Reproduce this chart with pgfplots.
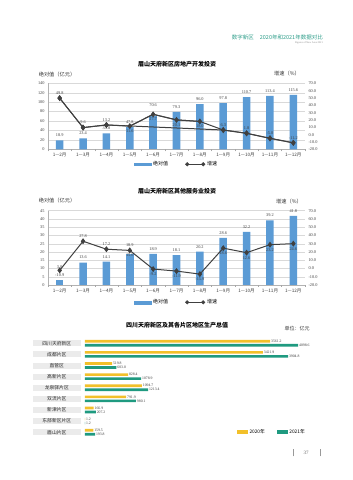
\documentclass[border=0pt]{standalone}
\usepackage{fontspec}
\usepackage{pgfplots}
\pgfplotsset{compat=1.18}
\usepackage{pgfplotstable}
\setmainfont{Liberation Serif}
\newfontfamily\cjk{Noto Sans CJK SC}
\newcommand\fs[1]{\fontsize{#1}{#1}\selectfont}
\definecolor{barblue}{HTML}{5B9BD5}
\definecolor{linegray}{HTML}{404040}
\definecolor{hdrteal}{HTML}{2E9E8A}
\definecolor{yel}{HTML}{F2C02A}
\definecolor{grn}{HTML}{1F9A80}
\pgfkeys{/pgf/number format/1000 sep={}}

% Chart 1: real estate investment (bars, 100 million yuan)
\pgfplotstableread{
x bar
0 18.9
1 23.4
2 33.8
3 47.8
5 79.3
6 96.0
7 97.8
8 110.7
9 113.4
10 115.6
}\tA
\pgfplotstableread{
x bar
4 70.6
}\tAs
% growth (%), labels above / below
\pgfplotstableread{
x g
0 49.8
1 9.6
2 13.2
7 6.3
8 1.8
9 -5.0
10 -11.2
}\tBa
\pgfplotstableread{
x g
3 11.6
4 27.7
5 20.1
6 18.0
}\tBb
% Chart 2: other services investment
\pgfplotstableread{
x bar
1 13.6
2 14.1
4 18.9
5 18.1
6 20.2
7 28.6
8 32.2
9 39.2
10 41.8
}\tC
\pgfplotstableread{
x bar
0 3.0
}\tCs
\pgfplotstableread{
x bar
3 18.9
}\tCt
\pgfplotstableread{
x g
1 27.8
2 17.2
}\tDa
\pgfplotstableread{
x g
0 -10.9
3 15.6
4 -9.2
5 -11.9
6 -15.9
7 18.6
8 12.6
9 23.2
10 24.6
}\tDb
% Chart 3: GDP
\pgfplotstableread{
y a b
0 159.5 193.8
1 1.2 1.2
2 166.9 207.2
3 791.9 980.1
4 1094.7 1213.4
5 828.4 1078.9
6 519.8 603.0
7 3421.9 3904.8
8 3561.2 4098.6
}\tE

\pgfplotsset{
  monthaxis/.style={
    anchor=south west, scale only axis, width=257pt,
    xmin=-0.5, xmax=10.5, clip=false,
    /pgf/number format/assume math mode=true,
    major tick length=0pt,
  },
  barlayer/.style={
    monthaxis,
    xtick={0,...,10},
    xticklabels={1—2月,1—3月,1—4月,1—5月,1—6月,1—7月,1—8月,1—9月,1—10月,1—11月,1—12月},
    xticklabel style={font=\cjk\fs{4.6}, text=black!75},
    yticklabel style={font=\fs{4.3}, text=black!75},
    yticklabel={\pgfmathprintnumber{\tick}},
    axis x line*=bottom, axis y line*=left,
    axis line style={-, black!30, line width=0.4pt},
    ymajorgrids, grid style={black!15, line width=0.4pt},
    extra x ticks={-0.5,0.5,...,10.5}, extra x tick labels={},
    extra x tick style={major tick length=2pt, tick align=outside, tick style={black!35, line width=0.4pt}, grid=none},
    legend style={draw=none, fill=none, legend columns=2, font=\cjk\fs{5},
      /tikz/every even column/.append style={column sep=15pt}},
  },
  linelayer/.style={
    monthaxis,
    axis x line=none, axis y line*=right,
    y axis line style={draw=none},
    yticklabel={\pgfmathprintnumber[fixed,fixed zerofill,precision=1]{\tick}},
    yticklabel style={font=\fs{4.3}, text=black!75},
  },
  lbl/.style={
    nodes near coords={\pgfmathprintnumber[fixed,fixed zerofill,precision=1]{\pgfplotspointmeta}},
    nodes near coords style={font=\fs{4.3}, text=black!75},
  },
  barplot/.style={
    ybar, bar width=7.5pt, bar shift=0pt, fill=barblue, draw=none, forget plot, lbl,
  },
  lineplot/.style={
    linegray, line width=1pt, mark=diamond*, mark size=2.2pt, mark options={fill=linegray}, forget plot,
  },
  barlegend/.style={
    legend image code/.code={\fill[barblue] (0pt,-1.4pt) rectangle (17pt,1.4pt);}
  },
  linelegend/.style={
    legend image code/.code={
      \draw[linegray, line width=1pt] (0pt,0pt) -- (16pt,0pt);
      \fill[linegray] (0pt,1.8pt) -- (1.8pt,0pt) -- (0pt,-1.8pt) -- (-1.8pt,0pt) -- cycle;
      \fill[linegray] (16pt,1.8pt) -- (17.8pt,0pt) -- (16pt,-1.8pt) -- (14.2pt,0pt) -- cycle;
    }
  },
}

\begin{document}
\begin{tikzpicture}[x=1pt,y=1pt]
\useasboundingbox (0,0) rectangle (353,480);
\fill[white] (0,0) rectangle (353,480);

% header
\node[anchor=east, font=\cjk\fs{5.5}, text=hdrteal, inner sep=0pt] at (323,443) {数字新区\hspace{6pt}2020年和2021年数据对比};
\node[anchor=east, font=\fs{2.6}, text=black!45, inner sep=0pt] at (323,437) {Figures of New Area 2021};

% ---------- Chart 1 ----------
\node[font=\cjk\bfseries\fs{6}] at (177,416) {眉山天府新区房地产开发投资};
\node[font=\cjk\fs{5.2}, text=black!80] at (57,405.7) {绝对值（亿元）};
\node[font=\cjk\fs{5.2}, text=black!80] at (287,406) {增速（\%）};
\begin{axis}[barlayer, at={(48pt,330.7pt)}, height=66pt,
  ymin=0, ymax=140, ytick={0,20,...,140},
  legend style={at={(0.5,-0.227)}, anchor=center}]
\addplot[barplot] table[x=x,y=bar]{\tA};
\addplot[barplot, nodes near coords style={yshift=6pt}] table[x=x,y=bar]{\tAs};
\addlegendimage{barlegend}
\addlegendentry{绝对值}
\addlegendimage{linelegend}
\addlegendentry{增速}
\end{axis}
\begin{axis}[linelayer, at={(48pt,330.7pt)}, height=66pt,
  ymin=-20, ymax=70, ytick={-20,-10,...,70}]
\addplot[lineplot] table[x=x,y=g]{\tBa};
\addplot[lineplot, mark=none] table[x=x,y=g]{\tBb};
% connecting line through all points, in order
\addplot[lineplot] coordinates {(0,49.8) (1,9.6) (2,13.2) (3,11.6) (4,27.7) (5,20.1) (6,18.0) (7,6.3) (8,1.8) (9,-5.0) (10,-11.2)};
\addplot[draw=none, forget plot, lbl, nodes near coords style={anchor=south}] table[x=x,y=g]{\tBa};
\addplot[draw=none, forget plot, lbl, nodes near coords style={anchor=north}] table[x=x,y=g]{\tBb};
\end{axis}

% ---------- Chart 2 ----------
\node[font=\cjk\bfseries\fs{6}] at (177,288.3) {眉山天府新区其他服务业投资};
\node[font=\cjk\fs{5.2}, text=black!80] at (57,279.3) {绝对值（亿元）};
\node[font=\cjk\fs{5.2}, text=black!80] at (289,278.3) {增速（\%）};
\begin{axis}[barlayer, at={(48pt,195pt)}, height=74.3pt,
  ymin=0, ymax=45, ytick={0,5,...,45},
  legend style={at={(0.5,-0.233)}, anchor=center}]
\addplot[barplot] table[x=x,y=bar]{\tC};
\addplot[barplot, nodes near coords style={yshift=8pt}] table[x=x,y=bar]{\tCs};
\addplot[barplot, nodes near coords style={yshift=4pt}] table[x=x,y=bar]{\tCt};
\addlegendimage{barlegend}
\addlegendentry{绝对值}
\addlegendimage{linelegend}
\addlegendentry{增速}
\end{axis}
\begin{axis}[linelayer, at={(48pt,195pt)}, height=74.3pt,
  ymin=-30.4, ymax=68.42,
  ytick={-30.4,-19.42,-8.44,2.54,13.52,24.5,35.48,46.46,57.44,68.42},
  yticklabels={-20.0,-10.0,0.0,10.0,20.0,30.0,40.0,50.0,60.0,70.0}]
\addplot[lineplot] coordinates {(0,-10.9) (1,27.8) (2,17.2) (3,15.6) (4,-9.2) (5,-11.9) (6,-15.9) (7,18.6) (8,12.6) (9,23.2) (10,24.6)};
\addplot[draw=none, forget plot, lbl, nodes near coords style={anchor=south}] table[x=x,y=g]{\tDa};
\addplot[draw=none, forget plot, lbl, nodes near coords style={anchor=north}] table[x=x,y=g]{\tDb};
\end{axis}

% ---------- Chart 3 ----------
\node[font=\cjk\bfseries\fs{6}] at (177,155) {四川天府新区及其各片区地区生产总值};
\node[font=\cjk\fs{5}, text=black!80] at (297,151) {单位：亿元};
\begin{axis}[at={(85pt,42.2pt)}, anchor=south west, scale only axis,
  width=234pt, height=100.1pt,
  xmin=0, xmax=4500, ymin=-0.5, ymax=8.5,
  xbar, bar width=2.7pt, clip=false,
  axis x line=none, axis y line*=left, y axis line style={draw=none},
  major tick length=0pt,
  ytick={0,...,8},
  yticklabels={眉山片区,东部新区片区,新津片区,双流片区,龙泉驿片区,高新片区,直管区,成都片区,四川天府新区},
  yticklabel style={font=\cjk\fs{4.8}, fill=black!8, text=black!85,
    minimum width=48pt, minimum height=6pt, inner sep=0pt, anchor=east, xshift=-4pt},
  point meta=x,
  nodes near coords={\pgfmathprintnumber[fixed,fixed zerofill,precision=1]{\pgfplotspointmeta}},
  nodes near coords style={font=\fs{3.8}, text=black!75, anchor=west, inner sep=0.8pt},
  /pgf/number format/assume math mode=true,
  legend style={draw=none, fill=none, legend columns=2, at={(0.799,0.058)}, anchor=center,
    font=\cjk\fs{4.8}, /tikz/every even column/.append style={column sep=10pt}},
]
\addplot[fill=yel, draw=none, bar shift=2pt, forget plot] table[x=a,y=y]{\tE};
\addplot[fill=grn, draw=none, bar shift=-2pt, forget plot] table[x=b,y=y]{\tE};
\addlegendimage{legend image code/.code={\fill[yel] (0pt,-1.4pt) rectangle (10pt,1.4pt);}}
\addlegendentry{2020年}
\addlegendimage{legend image code/.code={\fill[grn] (0pt,-1.4pt) rectangle (10pt,1.4pt);}}
\addlegendentry{2021年}
\end{axis}

% page number
\node[font=\fs{5}, text=black!60] at (306,27) {37};
\draw[black!40, line width=0.4pt] (293,23.5) -- (293,30.5);
\draw[black!40, line width=0.4pt] (320,23.5) -- (320,30.5);
\end{tikzpicture}
\end{document}
